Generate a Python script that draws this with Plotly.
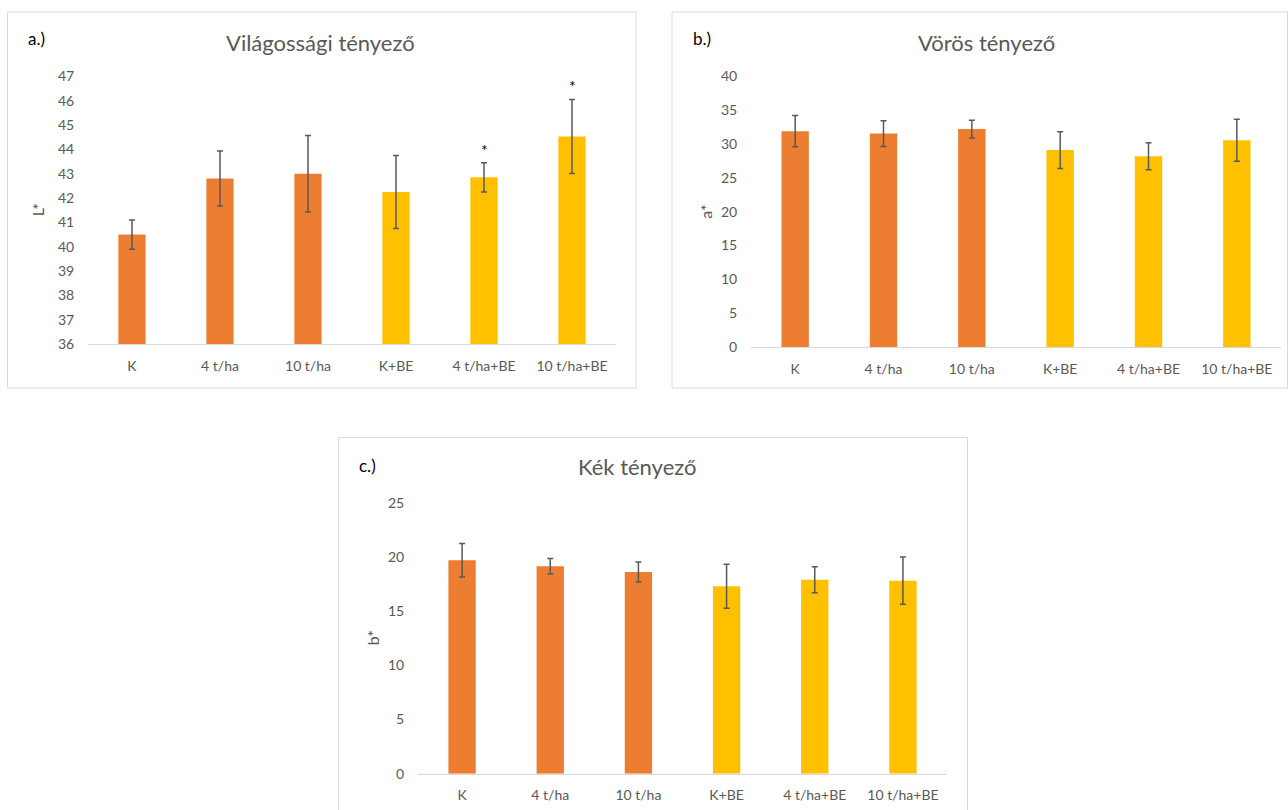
import plotly.graph_objects as go

# ── Data ────────────────────────────────────────────────────────────
categories = ['K', '4 t/ha', '10 t/ha', 'K+BE', '4 t/ha+BE', '10 t/ha+BE']
bar_colors = ['#ED7D31', '#ED7D31', '#ED7D31', '#FFC000', '#FFC000', '#FFC000']

L_mean = [40.5, 42.8, 43.0, 42.25, 42.85, 44.53]
L_err = [0.6, 1.13, 1.57, 1.5, 0.6, 1.52]
L_sig = ['', '', '', '', '*', '*']

a_mean = [31.9, 31.55, 32.2, 29.1, 28.2, 30.55]
a_err = [2.3, 1.9, 1.3, 2.7, 2.0, 3.1]

b_mean = [19.7, 19.15, 18.62, 17.3, 17.91, 17.82]
b_err = [1.55, 0.72, 0.92, 2.03, 1.2, 2.18]

W, H = 1288, 810
FONT = 'Lato'
GREY = '#595959'

# the photographed page comes out slightly squeezed vertically; undo it
Y_SCALE, Y_OFF = 0.98, 8.6


def px_x(v):
    return v / W


def px_y(v):
    return 1 - ((v - Y_OFF) / Y_SCALE) / H


panels = [
    dict(mean=L_mean, err=L_err, xd=(88, 616), yd=(76, 344), rng=[36, 47], dtick=1,
         ytitle='L*', title='Világossági tényező', label='a.)',
         box=(7.5, 11.5, 636, 388), title_xy=(320, 42), label_xy=(36, 38), ytitle_x=37),
    dict(mean=a_mean, err=a_err, xd=(751, 1281), yd=(76, 347), rng=[0, 40], dtick=5,
         ytitle='a*', title='Vörös tényező', label='b.)',
         box=(672, 11.5, 1287.5, 388), title_xy=(986, 42), label_xy=(702, 38), ytitle_x=706),
    dict(mean=b_mean, err=b_err, xd=(418, 947), yd=(503, 774), rng=[0, 25], dtick=5,
         ytitle='b*', title='Kék tényező', label='c.)',
         box=(338.5, 437.5, 967.5, 825), title_xy=(637, 467), label_xy=(367, 466), ytitle_x=372),
]

fig = go.Figure()
shapes = []
annotations = []
layout = {}

for i, p in enumerate(panels):
    sfx = '' if i == 0 else str(i + 1)
    fig.add_trace(go.Bar(
        x=categories, y=p['mean'],
        marker=dict(color=bar_colors, line=dict(width=0)),
        error_y=dict(type='data', array=p['err'], visible=True,
                     color=GREY, thickness=1.5, width=3),
        xaxis='x' + sfx, yaxis='y' + sfx,
        showlegend=False, hoverinfo='x+y',
    ))
    layout['xaxis' + sfx] = dict(
        domain=[px_x(p['xd'][0]), px_x(p['xd'][1])], anchor='y' + sfx,
        showline=True, linecolor='#D9D9D9', linewidth=1,
        showgrid=False, zeroline=False, ticks='outside', ticklen=9,
        tickcolor='rgba(0,0,0,0)', tickfont=dict(family=FONT, size=14, color=GREY),
    )
    layout['yaxis' + sfx] = dict(
        domain=[px_y(p['yd'][1]), px_y(p['yd'][0])], anchor='x' + sfx,
        range=p['rng'], dtick=p['dtick'], showgrid=False, zeroline=False,
        showline=False, ticks='outside', ticklen=10, tickcolor='rgba(0,0,0,0)',
        tickfont=dict(family=FONT, size=14, color=GREY),
    )
    x0, y0, x1, y1 = p['box']
    shapes.append(dict(type='rect', xref='paper', yref='paper',
                       x0=px_x(x0), x1=px_x(x1), y0=px_y(y1), y1=px_y(y0),
                       line=dict(color='#D9D9D9', width=1), fillcolor='rgba(0,0,0,0)'))
    annotations.append(dict(text=p['title'], xref='paper', yref='paper',
                            x=px_x(p['title_xy'][0]), y=px_y(p['title_xy'][1]),
                            xanchor='center', yanchor='middle', showarrow=False,
                            font=dict(family=FONT, size=22, color=GREY)))
    annotations.append(dict(text=p['label'], xref='paper', yref='paper',
                            x=px_x(p['label_xy'][0]), y=px_y(p['label_xy'][1]),
                            xanchor='center', yanchor='middle', showarrow=False,
                            font=dict(family=FONT, size=17, color='#000000')))
    annotations.append(dict(text=p['ytitle'], xref='paper', yref='paper', textangle=-90,
                            x=px_x(p['ytitle_x']), y=px_y((p['yd'][0] + p['yd'][1]) / 2),
                            xanchor='center', yanchor='middle', showarrow=False,
                            font=dict(family=FONT, size=16, color=GREY)))

# significance markers on panel a
for cat, m, e, s in zip(categories, L_mean, L_err, L_sig):
    if s:
        annotations.append(dict(text=s, x=cat, y=m + e, xref='x', yref='y',
                                xanchor='center', yanchor='bottom', yshift=2,
                                showarrow=False,
                                font=dict(family=FONT, size=16, color='#000000')))

fig.update_layout(
    width=W, height=H,
    margin=dict(l=0, r=0, t=0, b=0),
    paper_bgcolor='white', plot_bgcolor='white',
    bargap=0.69, shapes=shapes, annotations=annotations,
    **layout,
)

# pin the graph to the top-left corner of the page
pin = (
    "document.documentElement.style.margin='0';"
    "document.documentElement.style.overflow='hidden';"
    "document.body.style.margin='0';document.body.style.overflow='hidden';"
    "var g=document.getElementById('{plot_id}');"
    "g.style.position='fixed';g.style.top='0px';g.style.left='0px';"
)
fig.write_html('out.html', config={'displayModeBar': False}, post_script=pin)
